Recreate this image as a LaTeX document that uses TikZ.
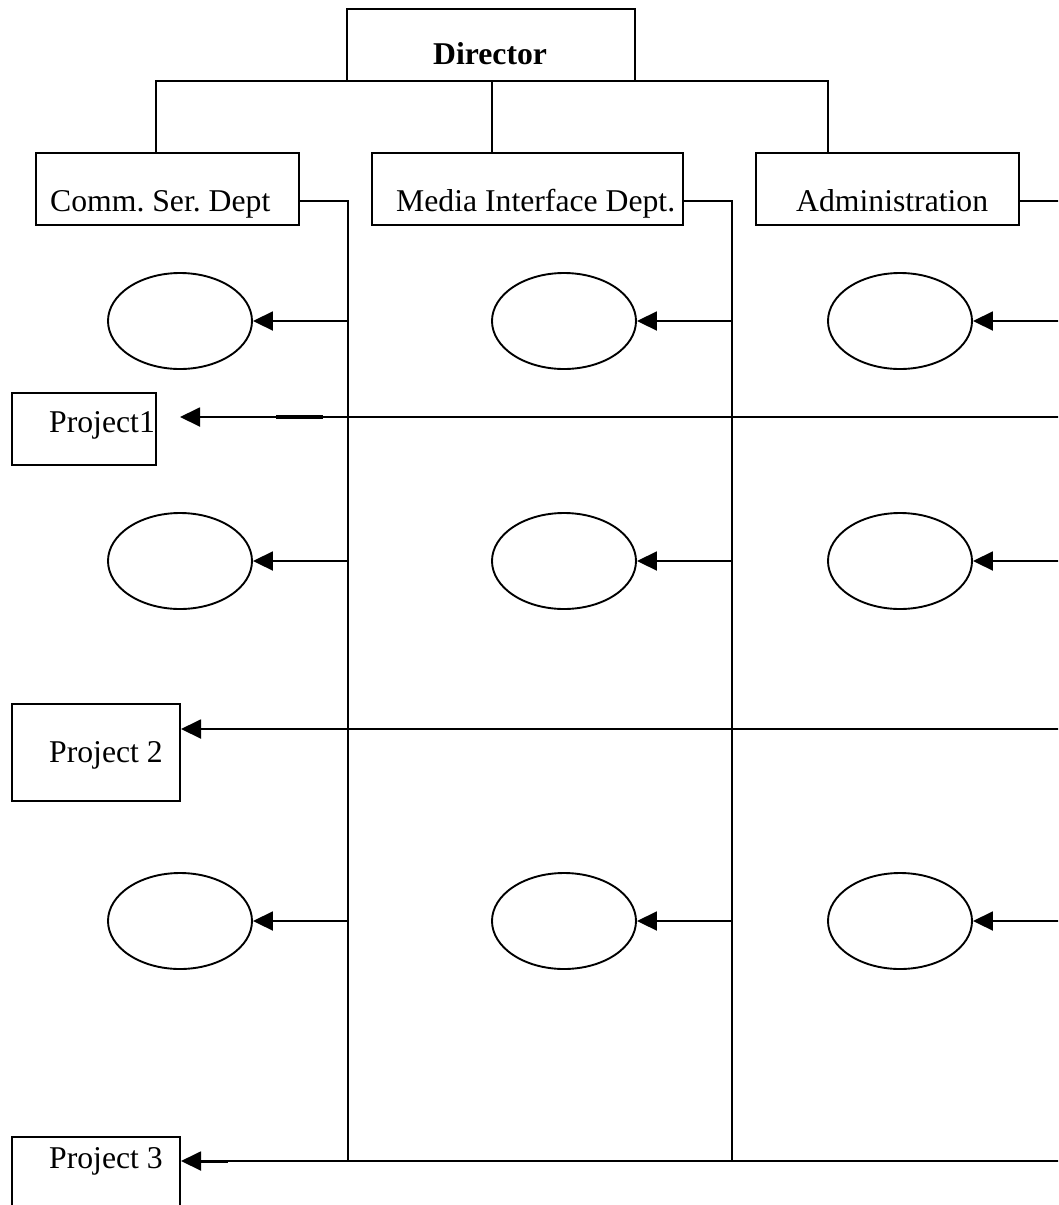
\documentclass[tikz,border=0pt]{standalone}
\usepackage{fontspec}
\setmainfont{Liberation Serif}
\usetikzlibrary{shapes.geometric,arrows.meta}
\frenchspacing
\begin{document}
\begin{tikzpicture}[x=1pt,y=-1pt,
  ln/.style={line width=1.9pt},
  box/.style={draw, line width=1.9pt, inner sep=0pt, outer sep=0pt},
  ell/.style={draw, ellipse, line width=1.9pt, minimum width=144pt, minimum height=96pt, inner sep=0pt},
  lbl/.style={anchor=base west, inner sep=0pt, font=\fontsize{31.7}{38}\selectfont},
  arr/.style={line width=1.9pt, -{Triangle[length=20pt,width=19pt]}}]
\clip (0,0) rectangle (1058,1205);
\fill[white] (0,0) rectangle (1058,1205);

% boxes
\node[box, minimum width=288pt, minimum height=72pt] (dir) at (491,45) {};
\node[box, minimum width=263pt, minimum height=72pt] (c1) at (167.5,189) {};
\node[box, minimum width=311pt, minimum height=72pt] (c2) at (527.5,189) {};
\node[box, minimum width=263pt, minimum height=72pt] (c3) at (887.5,189) {};
\node[box, minimum width=144pt, minimum height=72pt] (p1) at (84,429) {};
\node[box, minimum width=168pt, minimum height=97pt] (p2) at (96,752.5) {};
\node[box, minimum width=168pt, minimum height=100pt] (p3) at (96,1187) {};

% labels
\node[lbl, font=\fontsize{31.7}{38}\selectfont\bfseries] (tdir) at (433,64) {Director};
\node[lbl] (tc1) at (50,211) {Comm. Ser. Dept};
\node[lbl] (tc2) at (396,211) {Media Interface Dept.};
\node[lbl] (tc3) at (796,211) {Administration};
\node[lbl] (tp1) at (49,432) {Project1};
\node[lbl] (tp2) at (49,762) {Project 2};
\node[lbl] (tp3) at (49,1168) {Project 3};

% ellipses
\foreach \r/\y in {1/321,2/561,3/921}{
  \node[ell] (e\r a) at (180,\y) {};
  \node[ell] (e\r b) at (564,\y) {};
  \node[ell] (e\r c) at (900,\y) {};
}

% coordinates
\coordinate (t1) at (156,153);
\coordinate (t2) at (492,153);
\coordinate (t3) at (828,153);
\coordinate (j1) at (348,201);
\coordinate (j2) at (732,201);
\coordinate (j3) at (1062,201);
\coordinate (b1) at (348,1161);
\coordinate (b2) at (732,1161);
\coordinate (R) at (1062,0);
\coordinate (a1) at (180,417);
\coordinate (a2) at (181,729);
\coordinate (a3) at (181,1161);

% tree lines
\draw[ln] (t1) |- (dir.south) -| (t3);
\draw[ln] (dir.south -| t2) -- (t2);

% department vertical lines
\draw[ln] (c1.east |- j1) -- (j1) -- (b1);
\draw[ln] (c2.east |- j2) -- (j2) -- (b2);
\draw[ln] (c3.east |- j3) -- (j3);

% arrows to ellipses
\foreach \r in {1,2,3}{
  \draw[arr] (b1 |- e\r a) -- (e\r a);
  \draw[arr] (b2 |- e\r b) -- (e\r b);
  \draw[arr] (R |- e\r c) -- (e\r c);
}

% project lines
\draw[arr] (R |- a1) -- (a1);
\draw[arr] (R |- a2) -- (a2);
\draw[arr] (R |- a3) -- (a3);

% heavier stretches on the project lines
\draw[line width=3.4pt] (276,417) -- (323,417);
\draw[line width=3pt] (200,1161) -- (228,1161);
\end{tikzpicture}
\end{document}
